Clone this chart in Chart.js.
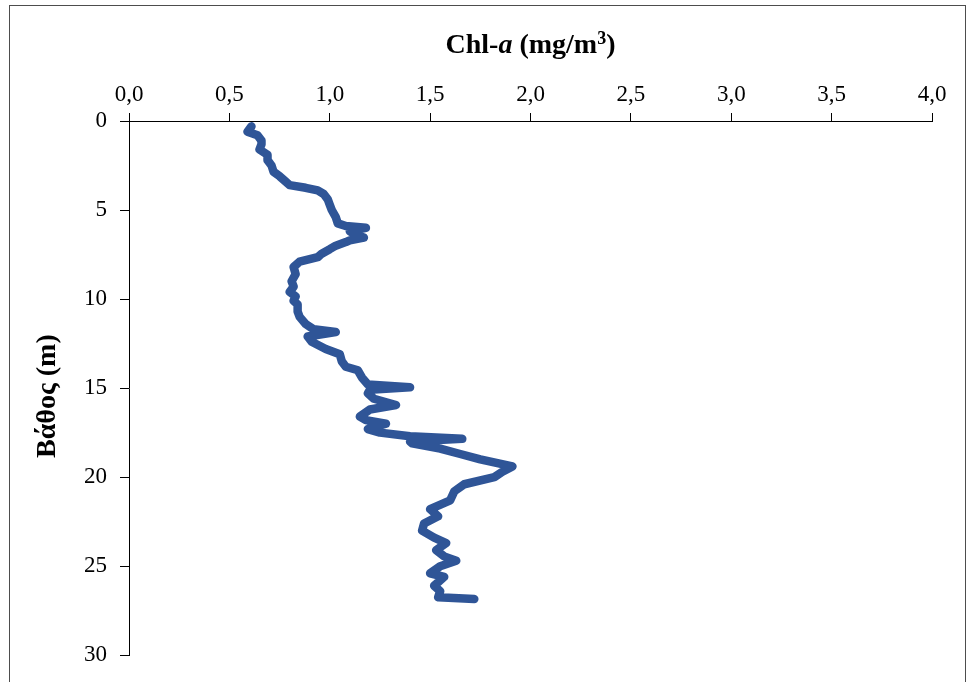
<!DOCTYPE html>
<html>
<head>
<meta charset="utf-8">
<title>Chl-a profile</title>
<script src="https://cdn.jsdelivr.net/npm/chart.js@4/dist/chart.umd.min.js"></script>
<style>
  html, body { margin: 0; padding: 0; background: #fff; overflow: hidden; }
  #wrap { width: 969px; height: 682px; position: relative; }
</style>
</head>
<body>
<div id="wrap"><canvas id="chlChart" width="969" height="682"></canvas></div>
<script>
'use strict';

// depth (m)
var depth = [0.3,0.6,0.8,1.1,1.3,1.6,1.9,2.2,2.5,2.85,3.1,3.4,3.6,3.75,3.9,4.1,4.4,4.7,5.0,5.4,
  5.75,5.9,6.0,6.2,6.4,6.55,6.7,6.8,7.0,7.2,7.45,7.65,7.9,8.2,8.6,9.0,9.3,9.6,9.85,10.1,
  10.3,10.7,11.0,11.4,11.7,11.85,12.1,12.4,12.8,13.1,13.5,13.8,14.0,14.4,14.8,14.95,15.1,15.3,15.6,15.95,
  16.2,16.6,16.8,17.0,17.3,17.5,17.7,17.85,18.0,18.1,18.4,18.7,19.0,19.4,19.7,20.0,20.4,20.8,21.3,21.8,
  22.2,22.6,23.0,23.4,23.7,24.1,24.45,24.7,25.0,25.4,25.6,26.1,26.4,26.75,26.85];

// Chl-a (mg/m3)
var chl = [0.61,0.59,0.64,0.66,0.66,0.65,0.69,0.69,0.71,0.72,0.75,0.78,0.80,0.88,0.94,0.97,0.99,1.00,1.01,1.03,
  1.04,1.08,1.18,1.10,1.13,1.17,1.10,1.08,1.03,1.00,0.96,0.94,0.85,0.82,0.83,0.81,0.82,0.80,0.83,0.82,
  0.84,0.84,0.85,0.88,0.92,1.03,0.89,0.91,0.98,1.05,1.06,1.08,1.14,1.16,1.19,1.40,1.20,1.19,1.22,1.33,
  1.20,1.15,1.18,1.28,1.19,1.25,1.40,1.66,1.40,1.41,1.55,1.65,1.75,1.91,1.86,1.82,1.67,1.62,1.60,1.50,
  1.54,1.47,1.46,1.52,1.58,1.53,1.57,1.63,1.55,1.50,1.57,1.52,1.55,1.54,1.72];

var xTicks = [0, 0.5, 1, 1.5, 2, 2.5, 3, 3.5, 4];
var yTicks = [0, 5, 10, 15, 20, 25, 30];

var points = depth.map(function(d, i) { return { x: chl[i], y: d }; });

var serif = "'Liberation Serif', 'Times New Roman', serif";

// frame + axis titles
var decoPlugin = {
  id: 'deco',
  afterDraw: function(chart) {
    var c = chart.ctx;
    var area = chart.chartArea;
    c.save();
    c.strokeStyle = '#4d4d4d';
    c.lineWidth = 1;
    c.strokeRect(9.5, 5.5, 956, 700);

    // x title: Chl-a (mg/m3), italic a
    c.fillStyle = '#000';
    c.textBaseline = 'middle';
    var parts = [
      { t: 'Chl-', f: 'bold 28px ' + serif },
      { t: 'a', f: 'italic bold 28px ' + serif },
      { t: ' (mg/m', f: 'bold 28px ' + serif },
      { t: '3', f: 'bold 18px ' + serif, sup: true },
      { t: ')', f: 'bold 28px ' + serif }
    ];
    var total = 0;
    parts.forEach(function(p) { c.font = p.f; p.w = c.measureText(p.t).width; total += p.w; });
    var x = (area.left + area.right) / 2 - total / 2;
    var y = 46;
    parts.forEach(function(p) {
      c.font = p.f;
      c.textAlign = 'left';
      c.fillText(p.t, x, p.sup ? y - 7 : y);
      x += p.w;
    });

    // y title
    c.translate(48, (area.top + area.bottom) / 2 + 8);
    c.rotate(-Math.PI / 2);
    c.textAlign = 'center';
    c.font = 'bold 28px ' + serif;
    c.fillText('Βάθος (m)', 0, 0);
    c.restore();
  }
};

var ctx = document.getElementById('chlChart');
var myChart = new Chart(ctx, {
  type: 'scatter',
  data: {
    datasets: [{
      data: points,
      showLine: true,
      borderColor: '#2f5597',
      backgroundColor: '#2f5597',
      borderWidth: 8.5,
      pointRadius: 0,
      tension: 0,
      borderCapStyle: 'round',
      borderJoinStyle: 'round'
    }]
  },
  options: {
    responsive: false,
    animation: false,
    layout: { padding: { left: 0, top: 0, right: 37, bottom: 25 } },
    plugins: {
      legend: { display: false },
      tooltip: { enabled: false }
    },
    scales: {
      x: {
        type: 'linear',
        position: 'top',
        min: 0,
        max: 4,
        afterBuildTicks: function(scale) { scale.ticks = xTicks.map(function(v) { return { value: v }; }); },
        afterFit: function(scale) { scale.height = 121; },
        ticks: {
          color: '#000',
          padding: 4,
          maxRotation: 0,
          font: { family: serif, size: 23 },
          callback: function(v) { return v.toFixed(1).replace('.', ','); }
        },
        grid: { drawOnChartArea: false, drawTicks: true, tickLength: 8, color: '#000' },
        border: { display: true, color: '#000', width: 1 }
      },
      y: {
        type: 'linear',
        reverse: true,
        min: 0,
        max: 30,
        afterBuildTicks: function(scale) { scale.ticks = yTicks.map(function(v) { return { value: v }; }); },
        afterFit: function(scale) { scale.width = 129; },
        ticks: {
          color: '#000',
          padding: 13,
          font: { family: serif, size: 23 }
        },
        grid: { drawOnChartArea: false, drawTicks: true, tickLength: 9, color: '#000' },
        border: { display: true, color: '#000', width: 1 }
      }
    }
  },
  plugins: [decoPlugin]
});
</script>
</body>
</html>
